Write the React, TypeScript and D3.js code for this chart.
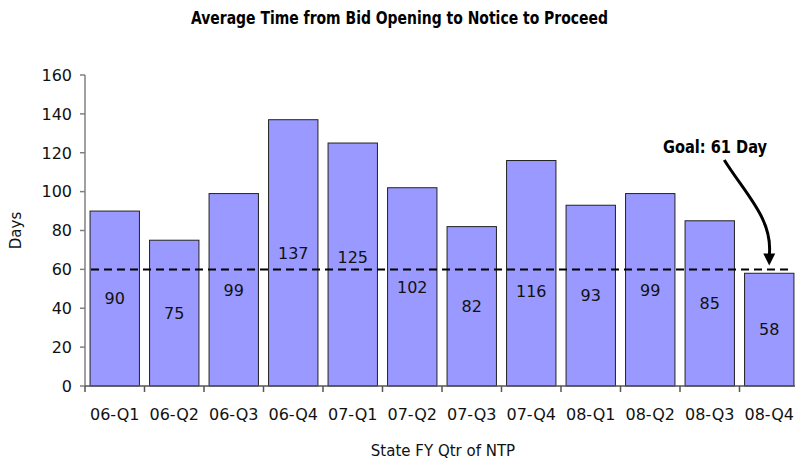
import React from "react";
import * as d3 from "d3";

// Quarterly averages (days from bid opening to notice to proceed)
const quarters = ["06-Q1", "06-Q2", "06-Q3", "06-Q4", "07-Q1", "07-Q2", "07-Q3", "07-Q4", "08-Q1", "08-Q2", "08-Q3", "08-Q4"];
const days = [90, 75, 99, 137, 125, 102, 82, 116, 93, 99, 85, 58];
const yTicks = [0, 20, 40, 60, 80, 100, 120, 140, 160];
const goalLine = 60;
const goalText = "Goal: 61 Day";
const goalArrowValue = 62;

const W = 795;
const H = 460;
const margin = { left: 85, right: 799, top: 75, bottom: 386 };

export default function App() {
  const x = d3.scaleBand<string>().domain(quarters).range([margin.left, margin.right]).paddingInner(0.17).paddingOuter(0.085);
  const y = d3.scaleLinear().domain([0, 160]).range([margin.bottom, margin.top]);
  const step = x.step();
  const goalY = y(goalLine);

  const tickFont = "'DejaVu Sans', Verdana, sans-serif";
  const titleFont = "'DejaVu Sans Condensed', 'Liberation Sans Narrow', 'Liberation Sans', sans-serif";

  // value label position: centred in the bar, nudged clear of the goal line
  const labelY = (v: number) => {
    const c = y(v / 2);
    if (Math.abs(c - goalY) < 10) return c < goalY ? goalY - 12.5 : goalY + 21.5;
    return c;
  };

  const last = quarters[quarters.length - 1];
  const tipX = (x(last) as number) + x.bandwidth() / 2;
  const tipY = y(goalArrowValue);
  const startX = tipX - 45;
  const startY = 160;
  const arrowPath = `M${startX},${startY} C${startX + 22},${startY + 35} ${tipX + 4},${startY + 60} ${tipX},${tipY - 10}`;

  return (
    <svg width={W} height={H} style={{ display: "block", position: "absolute", left: 0, top: 0 }}>
      <rect width={W} height={H} fill="#fff" />
      <text x={191} y={24} textLength={417} lengthAdjust="spacingAndGlyphs" fontFamily={titleFont} fontWeight="bold" fontSize={17}>
        Average Time from Bid Opening to Notice to Proceed
      </text>

      {/* bars */}
      {quarters.map((q, i) => (
        <rect key={q} x={x(q)} y={y(days[i])} width={x.bandwidth()} height={y(0) - y(days[i])} fill="#9999FF" stroke="#222" strokeWidth={1} />
      ))}

      {/* goal line */}
      <line x1={margin.left + 6} x2={margin.right - 11} y1={goalY} y2={goalY} stroke="#000" strokeWidth={2} strokeDasharray="8,5" />

      {/* value labels */}
      {quarters.map((q, i) => (
        <text key={q} x={(x(q) as number) + x.bandwidth() / 2} y={labelY(days[i])} dy="0.36em" textAnchor="middle" fontFamily={tickFont} fontSize={16} fill="#111">
          {days[i]}
        </text>
      ))}

      {/* y axis */}
      <line x1={margin.left} x2={margin.left} y1={margin.top} y2={margin.bottom} stroke="#808080" strokeWidth={1.5} />
      {yTicks.map((t) => (
        <g key={t}>
          <line x1={margin.left - 5} x2={margin.left} y1={y(t)} y2={y(t)} stroke="#808080" strokeWidth={1.5} />
          <text x={margin.left - 13} y={y(t)} dy="0.36em" textAnchor="end" fontFamily={tickFont} fontSize={16} fill="#111">
            {t}
          </text>
        </g>
      ))}

      {/* x axis */}
      <line x1={margin.left} x2={margin.right} y1={margin.bottom} y2={margin.bottom} stroke="#555" strokeWidth={1.5} />
      {quarters.map((q, i) => (
        <line key={q} x1={margin.left + i * step} x2={margin.left + i * step} y1={margin.bottom} y2={margin.bottom + 6} stroke="#555" strokeWidth={1.5} />
      ))}
      {quarters.map((q) => (
        <text key={q} x={(x(q) as number) + x.bandwidth() / 2} y={420} textAnchor="middle" fontFamily={tickFont} fontSize={16} fill="#111">
          {q}
        </text>
      ))}

      <text x={443} y={456} textAnchor="middle" fontFamily={tickFont} fontSize={15} fill="#111">
        State FY Qtr of NTP
      </text>
      <text transform={`translate(21,${(margin.top + margin.bottom) / 2}) rotate(-90)`} textAnchor="middle" fontFamily={tickFont} fontSize={15} fill="#111">
        Days
      </text>

      {/* goal annotation */}
      <text x={663} y={153} textLength={104} lengthAdjust="spacingAndGlyphs" fontFamily={titleFont} fontWeight="bold" fontSize={18}>
        {goalText}
      </text>
      <path d={arrowPath} fill="none" stroke="#000" strokeWidth={3} />
      <path d={`M${tipX - 6},${tipY - 12} L${tipX + 6},${tipY - 12} L${tipX},${tipY} Z`} fill="#000" />
    </svg>
  );
}
